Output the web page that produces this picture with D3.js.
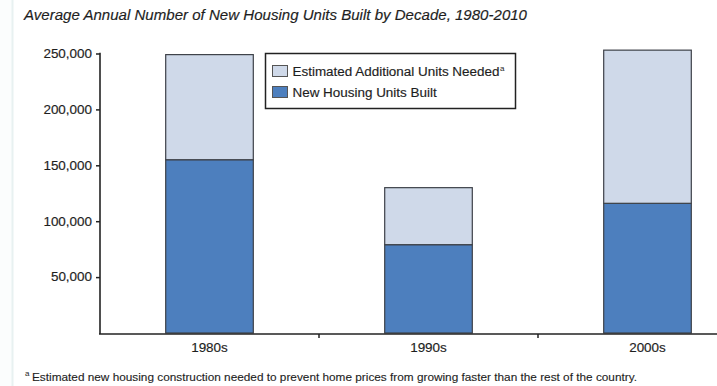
<!DOCTYPE html>
<html>
<head>
<meta charset="utf-8">
<script src="https://cdn.jsdelivr.net/npm/d3@7"></script>
<style>
  html, body { margin: 0; padding: 0; background: #fff; }
  svg { display: block; font-family: "Liberation Sans", Arial, Helvetica, sans-serif; }
</style>
</head>
<body>
<svg id="chart" width="717" height="386"></svg>
<script>
// Decades on the x axis
const decades = ["1980s", "1990s", "2000s"];
// Average annual new housing units built per decade
const unitsBuilt = [155000, 79000, 116000];
// Estimated additional units needed on top of what was built
const additionalNeeded = [94000, 51000, 137000];
// Y axis tick values
const yTicks = [50000, 100000, 150000, 200000, 250000];

const seriesKeys = ["built", "additional"];
const seriesLabels = { built: "New Housing Units Built", additional: "Estimated Additional Units Needed" };
const colors = { built: "#4d7fbe", additional: "#cfd9e9" };

const rows = decades.map((d, i) => ({ decade: d, built: unitsBuilt[i], additional: additionalNeeded[i] }));
const stacked = d3.stack().keys(seriesKeys)(rows);

const svg = d3.select("#chart");
const textColor = "#1e1e1e";
const stretch = 1.12;

// faint page edge on the left
svg.append("rect").attr("x", 0).attr("y", 0).attr("width", 12).attr("height", 386).attr("fill", "#fbfdfd");
svg.append("line").attr("x1", 12.5).attr("x2", 12.5).attr("y1", 0).attr("y2", 386)
  .attr("stroke", "#e8f1f1").attr("stroke-width", 2);

const x = d3.scaleBand().domain(decades).range([100, 757]).paddingInner(0.6).paddingOuter(0.3);
const y = d3.scaleLinear().domain([0, 250000]).range([333, 53.5]);

// Title
svg.append("text")
  .attr("x", 24).attr("y", 20)
  .attr("font-size", 14).attr("font-style", "italic")
  .attr("fill", "#1e1e1e")
  .attr("stroke", "#1e1e1e").attr("stroke-width", 0.15)
  .attr("textLength", 503).attr("lengthAdjust", "spacingAndGlyphs")
  .text("Average Annual Number of New Housing Units Built by Decade, 1980-2010");

// Stacked bars
svg.append("g").selectAll("g")
  .data(stacked)
  .join("g")
  .attr("fill", d => colors[d.key])
  .selectAll("rect")
  .data(d => d)
  .join("rect")
  .attr("x", d => x(d.data.decade))
  .attr("width", x.bandwidth())
  .attr("y", d => y(d[1]))
  .attr("height", d => y(d[0]) - y(d[1]))
  .attr("stroke", "#3d4148")
  .attr("stroke-width", 1.2);

// Y axis
const yAxis = svg.append("g")
  .attr("transform", "translate(100,0)")
  .call(d3.axisLeft(y).tickValues(yTicks).tickFormat(d3.format(",")).tickSize(4).tickSizeOuter(0).tickPadding(4));
yAxis.select(".domain").remove();
yAxis.selectAll(".tick line").attr("stroke", "#222").attr("stroke-width", 1.5);
yAxis.selectAll(".tick text").attr("font-size", 12).attr("fill", textColor).attr("font-family", null)
  .attr("stroke", textColor).attr("stroke-width", 0.15);
svg.append("line").attr("x1", 100).attr("x2", 100).attr("y1", y(250000) - 0.7).attr("y2", 334)
  .attr("stroke", "#222").attr("stroke-width", 1.6);

// X axis: baseline with ticks at the band boundaries
svg.append("line").attr("x1", 99).attr("x2", 717).attr("y1", 334).attr("y2", 334)
  .attr("stroke", "#222").attr("stroke-width", 1.6);
svg.append("g").selectAll("line")
  .data(decades.slice(1))
  .join("line")
  .attr("x1", d => x(d) + x.bandwidth() / 2 - x.step() / 2)
  .attr("x2", d => x(d) + x.bandwidth() / 2 - x.step() / 2)
  .attr("y1", 334).attr("y2", 338)
  .attr("stroke", "#222").attr("stroke-width", 1.5);
svg.append("g").selectAll("text")
  .data(decades)
  .join("text")
  .attr("class", "stretch")
  .attr("x", d => x(d) + x.bandwidth() / 2)
  .attr("y", 352)
  .attr("text-anchor", "middle")
  .attr("font-size", 12)
  .attr("fill", textColor)
  .attr("stroke", textColor).attr("stroke-width", 0.15)
  .text(d => d);

// Legend
const legend = svg.append("g");
legend.append("rect")
  .attr("x", 265.5).attr("y", 53.5).attr("width", 250).attr("height", 55)
  .attr("fill", "#fff").attr("stroke", "#222").attr("stroke-width", 1.5);
const legendKeys = ["additional", "built"];
const li = legend.selectAll("g.item").data(legendKeys).join("g").attr("class", "item")
  .attr("transform", (d, i) => `translate(272.5, ${65.5 + i * 21})`);
li.append("rect").attr("width", 15).attr("height", 11)
  .attr("fill", d => colors[d]).attr("stroke", "#555").attr("stroke-width", 1);
li.append("text")
  .attr("class", "stretch")
  .attr("x", 20).attr("y", 10.5)
  .attr("font-size", 12).attr("fill", textColor)
  .attr("stroke", textColor).attr("stroke-width", 0.15)
  .text(d => seriesLabels[d]);

// Footnote
svg.append("text")
  .attr("x", 25).attr("y", 376)
  .attr("font-size", 8).attr("fill", textColor)
  .text("a");
svg.append("text")
  .attr("x", 32).attr("y", 381)
  .attr("font-size", 11).attr("fill", textColor)
  .attr("stroke", textColor).attr("stroke-width", 0.12)
  .attr("textLength", 605).attr("lengthAdjust", "spacingAndGlyphs")
  .text("Estimated new housing construction needed to prevent home prices from growing faster than the rest of the country.");

// widen the axis and legend labels slightly
svg.selectAll(".tick text, text.stretch").each(function () {
  const w = this.getComputedTextLength();
  d3.select(this).attr("textLength", w * stretch).attr("lengthAdjust", "spacingAndGlyphs");
});

// footnote marker right after the first legend label
const firstLabel = li.filter(d => d === "additional").select("text");
const labelEnd = 272.5 + 20 + (+firstLabel.attr("textLength"));
legend.append("text")
  .attr("x", labelEnd + 0.5).attr("y", 70.5)
  .attr("font-size", 8).attr("fill", textColor)
  .text("a");
</script>
</body>
</html>
